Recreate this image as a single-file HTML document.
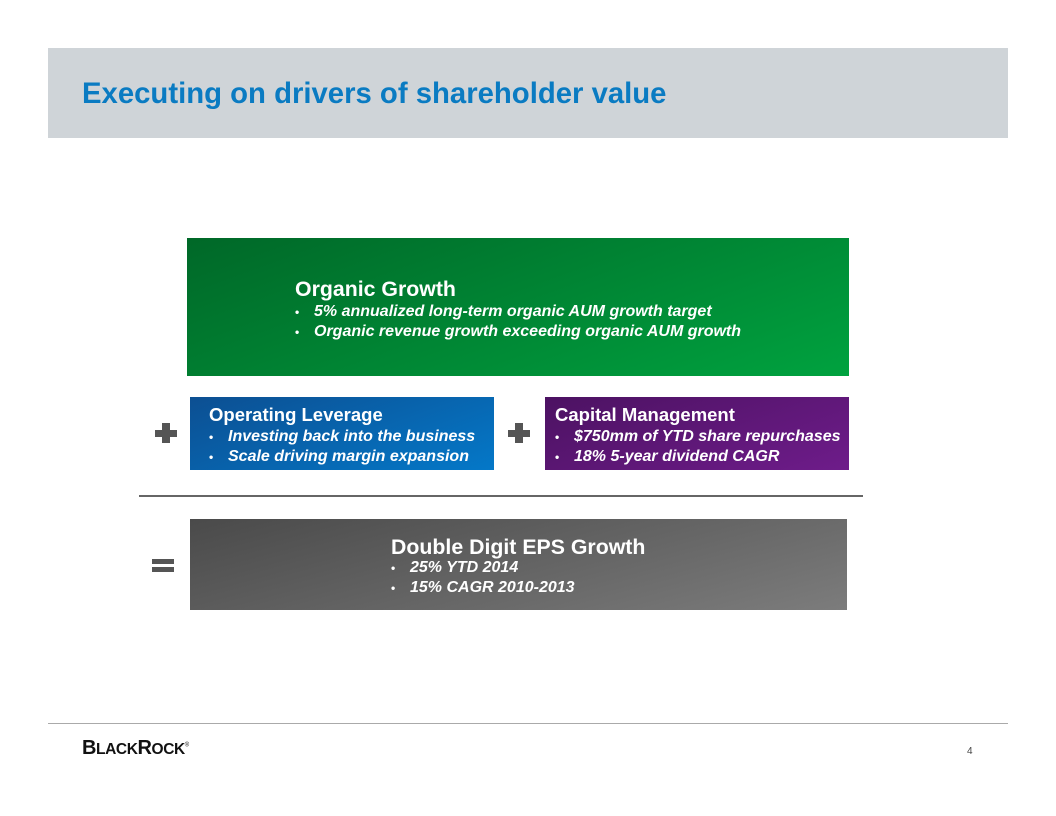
<!DOCTYPE html>
<html><head><style>
body{margin:0;width:1056px;height:816px;background:#fff;position:relative;font-family:"Liberation Sans",Arial,sans-serif;overflow:hidden}
.a{position:absolute}
.t{font-weight:bold;color:#fff;white-space:nowrap}
.b{font-weight:bold;font-style:italic;color:#fff;font-size:16px;white-space:nowrap;line-height:19px}
.b span{display:inline-block;width:19px;font-style:normal;font-size:12px}
.plus{position:absolute;width:22px;height:18px}
.plus:before{content:"";position:absolute;left:0;top:6px;width:22px;height:7px;background:#555}
.plus:after{content:"";position:absolute;left:7px;top:-1px;width:8px;height:20px;background:#555}
</style></head><body>
<div class="a" style="left:48px;top:48px;width:960px;height:90px;background:#cfd4d8"></div>
<div class="a t" style="left:82px;top:77px;font-size:29.3px;color:#0a7bc2">Executing on drivers of shareholder value</div>

<div class="a" style="left:187px;top:238px;width:662px;height:138px;background:linear-gradient(160deg,#006828,#00a23f)"></div>
<div class="a t" style="left:295px;top:277px;font-size:21.3px">Organic Growth</div>
<div class="a b" style="left:295px;top:302px"><span>•</span>5% annualized long-term organic AUM growth target<br><span>•</span>Organic revenue growth exceeding organic AUM growth</div>

<div class="plus" style="left:155px;top:424px"></div>
<div class="a" style="left:190px;top:397px;width:304px;height:73px;background:linear-gradient(160deg,#0c4f92,#0478c8)"></div>
<div class="a t" style="left:209px;top:404px;font-size:18.5px">Operating Leverage</div>
<div class="a b" style="left:209px;top:427px"><span>•</span>Investing back into the business<br><span>•</span>Scale driving margin expansion</div>

<div class="plus" style="left:508px;top:424px"></div>
<div class="a" style="left:545px;top:397px;width:304px;height:73px;background:linear-gradient(160deg,#4c1262,#6e1c8a)"></div>
<div class="a t" style="left:555px;top:404px;font-size:18.5px">Capital Management</div>
<div class="a b" style="left:555px;top:427px"><span>•</span>$750mm of YTD share repurchases<br><span>•</span>18% 5-year dividend CAGR</div>

<div class="a" style="left:139px;top:495px;width:724px;height:2px;background:#666"></div>

<div class="a" style="left:152px;top:559px;width:22px;height:5px;background:#555"></div>
<div class="a" style="left:152px;top:567px;width:22px;height:5px;background:#555"></div>
<div class="a" style="left:190px;top:519px;width:657px;height:91px;background:linear-gradient(165deg,#4a4a4a,#7c7c7c)"></div>
<div class="a t" style="left:391px;top:535px;font-size:21.3px">Double Digit EPS Growth</div>
<div class="a b" style="left:391px;top:558px"><span>•</span>25% YTD 2014<br><span>•</span>15% CAGR 2010-2013</div>

<div class="a" style="left:48px;top:723px;width:960px;height:1px;background:#aaa"></div>
<div class="a" style="left:82px;top:737px;font-size:20px;font-weight:bold;color:#111;letter-spacing:-0.4px">B<span style="font-size:15.5px">LACK</span>R<span style="font-size:15.5px">OCK</span><sup style="font-size:6px;font-weight:normal">®</sup></div>
<div class="a" style="left:967px;top:746px;font-size:10px;color:#444">4</div>
</body></html>
